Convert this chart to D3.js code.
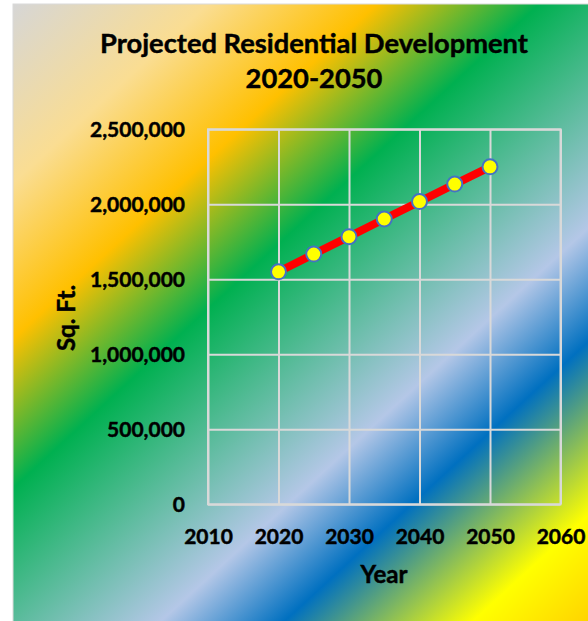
<!DOCTYPE html>
<html>
<head>
<meta charset="utf-8">
<script src="https://cdn.jsdelivr.net/npm/d3@7"></script>
<style>
  html, body { margin: 0; padding: 0; background: #ffffff; }
  svg { display: block; }
  text { font-family: Lato, "Open Sans", sans-serif; font-weight: bold; fill: #000; stroke: #000; stroke-width: 0.45px; }
</style>
</head>
<body>
<div id="chart"></div>
<script>
// ---- data ----
const titleLines = ["Projected Residential Development", "2020-2050"];
const years = [2020, 2025, 2030, 2035, 2040, 2045, 2050];
const sqft = [1550000, 1668000, 1784000, 1902000, 2018000, 2135000, 2250000];
const xTicks = [2010, 2020, 2030, 2040, 2050, 2060];
const yTicks = [0, 500000, 1000000, 1500000, 2000000, 2500000];
const xTitle = "Year";
const yTitle = "Sq. Ft.";

// ---- layout ----
const W = 588, H = 621;
const plot = { left: 208, right: 560.5, top: 129.3, bottom: 504.3 };

const svg = d3.select("#chart").append("svg").attr("width", W).attr("height", H);

// background gradient
const defs = svg.append("defs");
const L = 880;
const grad = defs.append("linearGradient")
  .attr("id", "bg").attr("gradientUnits", "userSpaceOnUse")
  .attr("x1", 13).attr("y1", 4)
  .attr("x2", 13 + 0.677 * L).attr("y2", 4 + 0.736 * L);
[
  [0.00, "#d6d6d6"],
  [0.15, "#fadd92"],
  [0.28, "#ffc000"],
  [0.405, "#00b050"],
  [0.63, "#b4c7e7"],
  [0.725, "#0070c0"],
  [0.87, "#ffff00"],
  [1.00, "#ffc000"]
].forEach(([o, c]) => grad.append("stop").attr("offset", o).attr("stop-color", c));

svg.append("rect").attr("x", 13).attr("y", 4).attr("width", W).attr("height", H)
  .attr("fill", "url(#bg)").attr("stroke", "#d9d9d9").attr("stroke-width", 1);

// font size fitting helper
function fitSize(str, targetW) {
  const t = svg.append("text").attr("font-size", 100).style("stroke", "none").text(str);
  const w = t.node().getComputedTextLength();
  t.remove();
  return 100 * targetW / w;
}
const titleSize = fitSize(titleLines[0], 428);
const tickSize = fitSize("2,500,000", 95);
const axisTitleSize = fitSize(xTitle, 47);

// scales
const x = d3.scaleLinear().domain([2010, 2060]).range([plot.left, plot.right]);
const y = d3.scaleLinear().domain([0, 2500000]).range([plot.bottom, plot.top]);
const pw = plot.right - plot.left, ph = plot.bottom - plot.top;

// y axis with gridlines
const gy = svg.append("g").attr("transform", `translate(${plot.left},0)`)
  .call(d3.axisLeft(y).tickValues(yTicks).tickFormat(d3.format(",")).tickSize(-pw).tickPadding(23));
gy.select(".domain").remove();
gy.selectAll("line").attr("stroke", "#d9d9d9").attr("stroke-width", 2);
gy.selectAll("text").attr("font-size", tickSize).attr("dy", "0.36em")
  .style("font-family", "Lato, sans-serif").style("font-weight", "bold").attr("fill", "#000");

// x axis with gridlines
const gx = svg.append("g").attr("transform", `translate(0,${plot.bottom})`)
  .call(d3.axisBottom(x).tickValues(xTicks).tickFormat(d3.format("d")).tickSize(-ph).tickPadding(0));
gx.select(".domain").remove();
gx.selectAll("line").attr("stroke", "#d9d9d9").attr("stroke-width", 2);
gx.selectAll("text").attr("font-size", tickSize).attr("y", 32).attr("dy", "0.36em")
  .style("font-family", "Lato, sans-serif").style("font-weight", "bold").attr("fill", "#000");

// plot border
svg.append("rect").attr("x", plot.left).attr("y", plot.top).attr("width", pw).attr("height", ph)
  .attr("fill", "none").attr("stroke", "#d9d9d9").attr("stroke-width", 2);

// line
const pts = years.map((yr, i) => [yr, sqft[i]]);
svg.append("path").datum(pts)
  .attr("d", d3.line().x(d => x(d[0])).y(d => y(d[1])))
  .attr("fill", "none").attr("stroke", "#ff0000").attr("stroke-width", 8);

svg.selectAll("circle.pt").data(pts).enter().append("circle").attr("class", "pt")
  .attr("cx", d => x(d[0])).attr("cy", d => y(d[1])).attr("r", 7.5)
  .attr("fill", "#ffff00").attr("stroke", "#4472c4").attr("stroke-width", 2);

// titles
svg.append("text").attr("x", 314).attr("y", 52.5).attr("text-anchor", "middle")
  .attr("font-size", titleSize).text(titleLines[0]);
svg.append("text").attr("x", 314).attr("y", 88).attr("text-anchor", "middle")
  .attr("font-size", titleSize).text(titleLines[1]);

svg.append("text").attr("x", 384).attr("y", 574).attr("dy", "0.36em").attr("text-anchor", "middle")
  .attr("font-size", axisTitleSize).text(xTitle);

svg.append("text").attr("transform", "translate(66,318) rotate(-90)").attr("dy", "0.36em")
  .attr("text-anchor", "middle").attr("font-size", axisTitleSize).text(yTitle);
</script>
</body>
</html>
